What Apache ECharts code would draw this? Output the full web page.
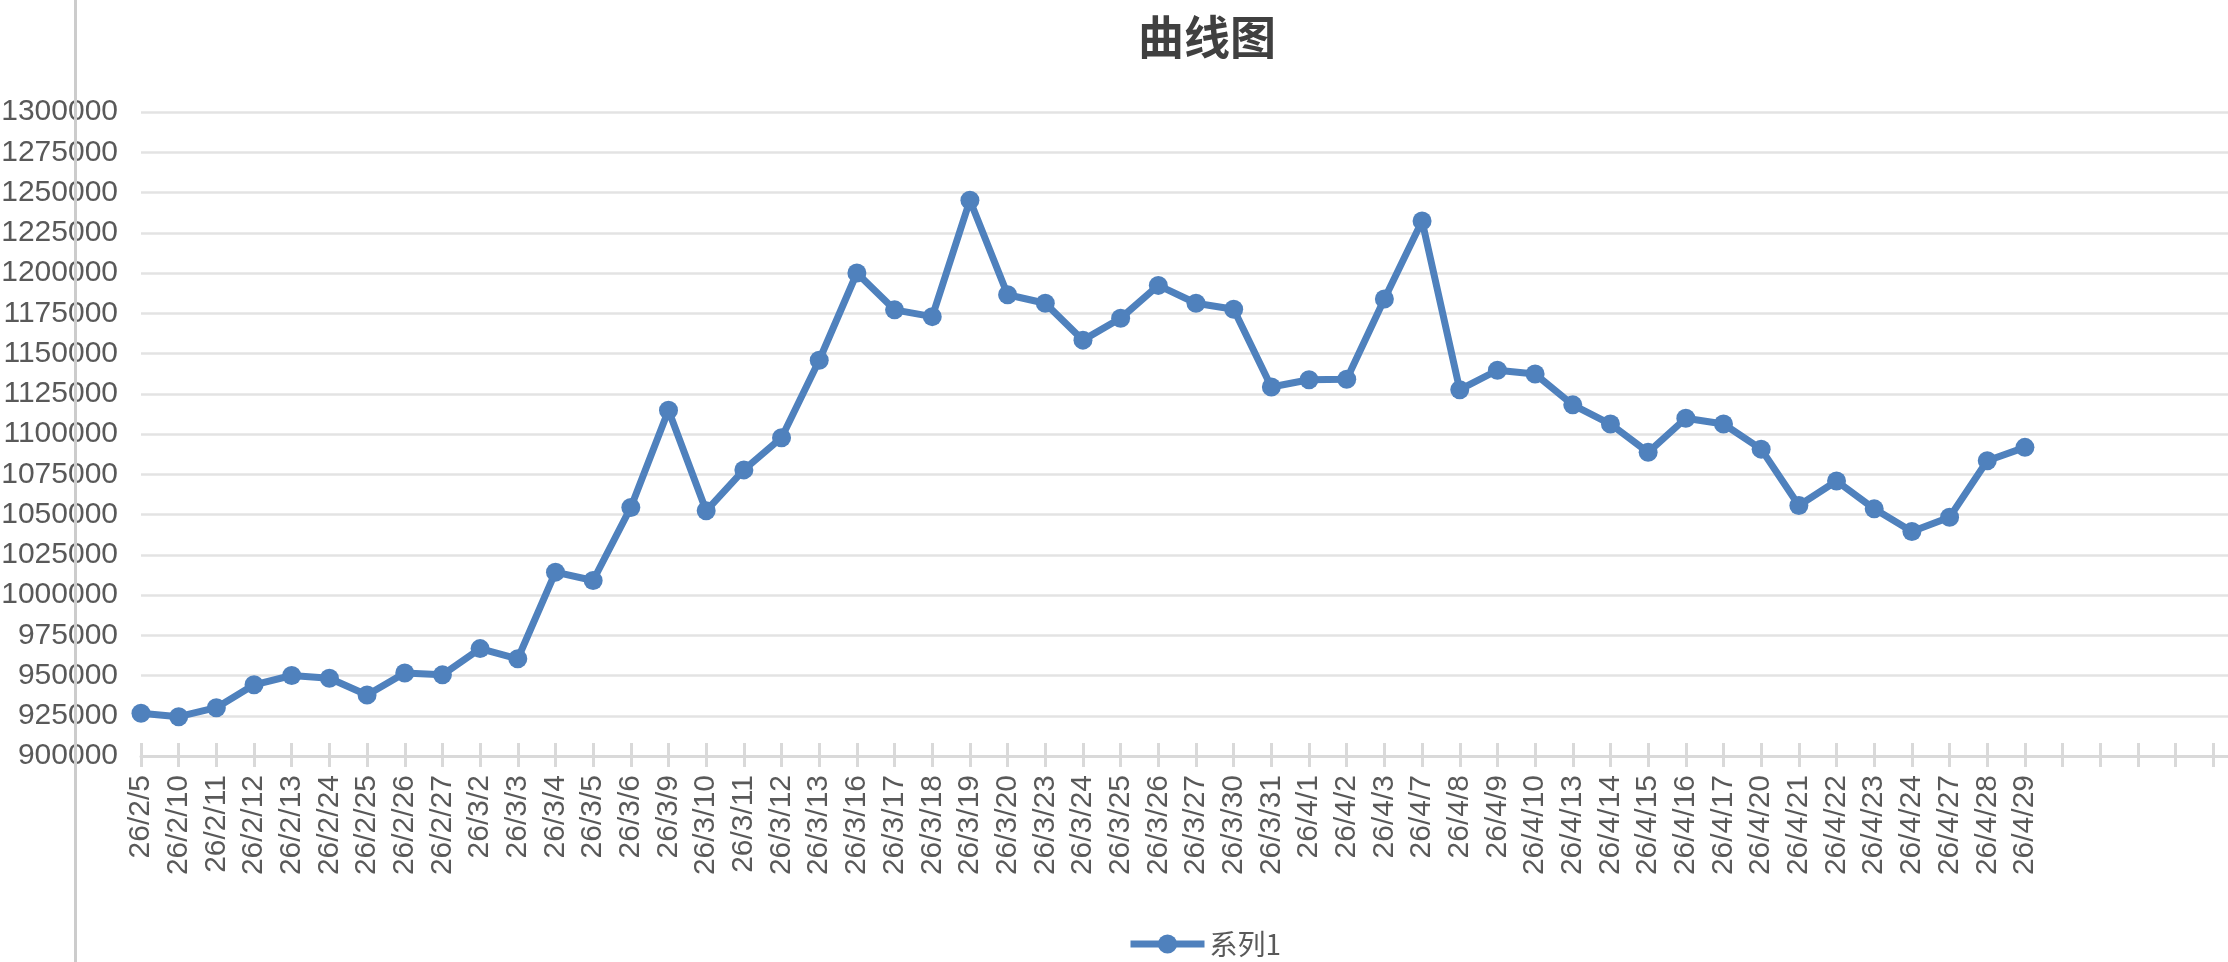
<!DOCTYPE html>
<html>
<head>
<meta charset="utf-8">
<script src="https://cdn.jsdelivr.net/npm/echarts@6/dist/echarts.min.js"></script>
<style>
html,body{margin:0;padding:0;background:#fff;}
#chart{width:2228px;height:962px;}
</style>
</head>
<body>
<div id="chart"></div>
<script>
var titleText = '曲线图';
var seriesName = '系列1';
var categories = ['26/2/5','26/2/10','26/2/11','26/2/12','26/2/13','26/2/24','26/2/25','26/2/26','26/2/27',
  '26/3/2','26/3/3','26/3/4','26/3/5','26/3/6','26/3/9','26/3/10','26/3/11','26/3/12','26/3/13',
  '26/3/16','26/3/17','26/3/18','26/3/19','26/3/20','26/3/23','26/3/24','26/3/25','26/3/26','26/3/27',
  '26/3/30','26/3/31','26/4/1','26/4/2','26/4/3','26/4/7','26/4/8','26/4/9','26/4/10','26/4/13',
  '26/4/14','26/4/15','26/4/16','26/4/17','26/4/20','26/4/21','26/4/22','26/4/23','26/4/24','26/4/27',
  '26/4/28','26/4/29'];
// empty trailing category slots shown on the axis with no data
var blankCategories = ['', '', '', '', '', ''];
var values = [926500, 924400, 930000, 944200, 950000, 948300, 937900, 951500, 950400,
  966700, 960400, 1014200, 1009000, 1054400, 1114800, 1052300, 1077700, 1097700, 1145800,
  1200000, 1177100, 1172900, 1245200, 1186500, 1181200, 1158300, 1171900, 1192300, 1181200,
  1177500, 1129200, 1133700, 1134000, 1183900, 1232300, 1127500, 1139600, 1137300, 1118100,
  1106200, 1088600, 1109800, 1106200, 1090600, 1055600, 1070800, 1053500, 1039400, 1048300,
  1083400, 1091700];
var yMin = 900000, yMax = 1300000, yStep = 25000;

var allCats = categories.concat(blankCategories);
var chart = echarts.init(document.getElementById('chart'), null, {renderer: 'canvas'});
var font = "'Liberation Sans', Arial, sans-serif";
var tickColor = '#d9d9d9';
chart.setOption({
  animation: false,
  backgroundColor: '#ffffff',
  title: {
    text: titleText,
    left: 1133, top: 9,
    textStyle: {fontFamily: "'Noto Sans CJK SC', sans-serif", fontSize: 46, fontWeight: 'bold', color: '#404040'}
  },
  legend: {
    left: 1122, top: 925,
    itemWidth: 74, itemHeight: 24, itemGap: 10,
    lineStyle: {width: 7},
    itemStyle: {color: '#4f81bd'},
    textStyle: {fontFamily: "'Noto Sans CJK SC', 'Liberation Sans', sans-serif", fontSize: 28, color: '#595959'},
    data: [seriesName]
  },
  grid: {left: 141, top: 112, width: 2110, height: 644, containLabel: false, outerBoundsMode: 'none'},
  xAxis: [{
    type: 'category',
    data: allCats,
    boundaryGap: false,
    position: 'bottom',
    axisLine: {show: true, onZero: false, lineStyle: {color: tickColor, width: 3}},
    axisTick: {show: true, interval: 0, inside: false, length: 11, lineStyle: {color: tickColor, width: 3}},
    axisLabel: {interval: 0, rotate: 90, margin: 19, fontFamily: font, fontSize: 30, color: '#595959'},
    splitLine: {show: false}
  }, {
    type: 'category',
    data: allCats,
    boundaryGap: false,
    position: 'bottom',
    axisLine: {show: false, onZero: false},
    axisTick: {show: true, interval: 0, inside: true, length: 13, lineStyle: {color: tickColor, width: 3}},
    axisLabel: {show: false},
    splitLine: {show: false}
  }],
  yAxis: {
    type: 'value',
    min: yMin, max: yMax, interval: yStep,
    axisLine: {show: false},
    axisTick: {show: false},
    axisLabel: {margin: 23, fontFamily: font, fontSize: 30, color: '#595959',
      formatter: function (v) { return String(v); }},
    splitLine: {show: true, lineStyle: {color: '#e3e3e3', width: 2.5}}
  },
  graphic: [{
    type: 'line',
    shape: {x1: 75.5, y1: 0, x2: 75.5, y2: 962},
    style: {stroke: '#cccccc', lineWidth: 3},
    z: 100
  }],
  series: [{
    name: seriesName,
    type: 'line',
    xAxisIndex: 0,
    data: values,
    symbol: 'circle',
    symbolSize: 19,
    showAllSymbol: true,
    itemStyle: {color: '#4f81bd'},
    lineStyle: {color: '#4f81bd', width: 7},
    z: 5
  }]
});
</script>
</body>
</html>
